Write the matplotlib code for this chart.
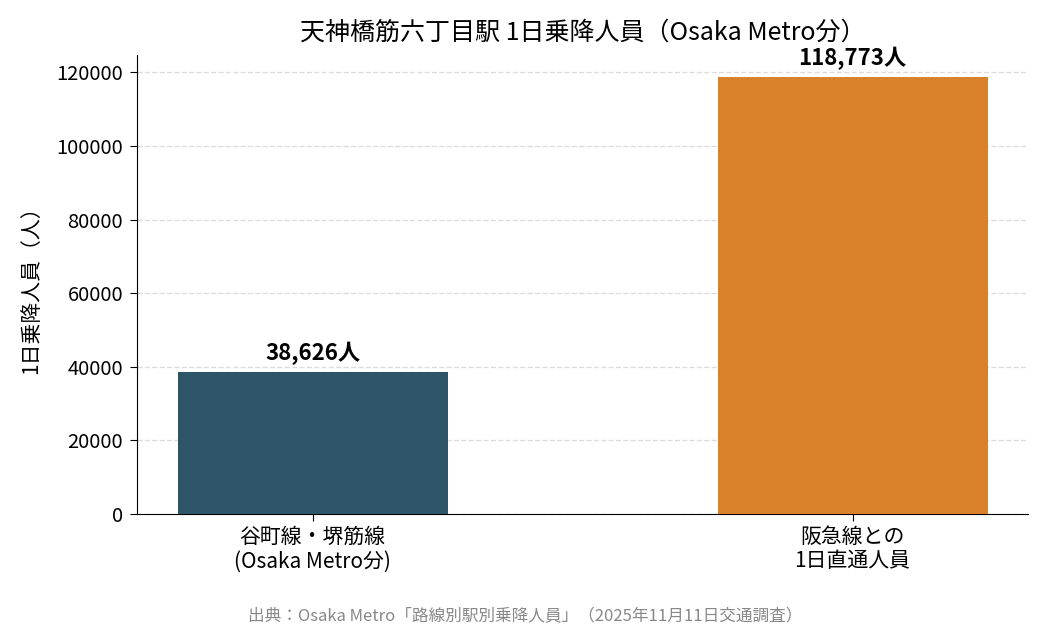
import matplotlib
matplotlib.use("Agg")
import matplotlib.pyplot as plt

plt.rcParams['font.family'] = ['Noto Sans CJK JP', 'DejaVu Sans']

categories = ["谷町線・堺筋線\n(Osaka Metro分)", "阪急線との\n1日直通人員"]
values = [38626, 118773]
colors = ["#2e5468", "#d9822b"]
bar_labels = ["38,626人", "118,773人"]

fig = plt.figure(figsize=(10.5, 6.3), dpi=100)
ax = fig.add_axes([137/1050, 1-514/630, (1028-137)/1050, (514-55)/630])

x = list(range(len(categories)))
ax.bar(x, values, width=0.5, color=colors, zorder=3)
for xi, v, lab in zip(x, values, bar_labels):
    ax.annotate(lab, (xi, v), xytext=(0, 5), textcoords="offset points",
                ha="center", va="bottom", fontsize=16, fontweight="bold")

ax.set_xticks(x)
ax.set_xticklabels(categories, fontsize=15, linespacing=1.15)
ax.set_ylim(0, max(values) * 1.05)
ax.set_yticks([0, 20000, 40000, 60000, 80000, 100000, 120000])
ax.tick_params(axis='y', labelsize=14.5, length=5, pad=5)
ax.tick_params(axis='x', length=5)
ax.set_ylabel("1日乗降人員（人）", fontsize=15, labelpad=10)
ax.set_title("天神橋筋六丁目駅 1日乗降人員（Osaka Metro分）", fontsize=18, pad=11)
ax.grid(axis='y', linestyle='--', color='#dddddd', linewidth=1, zorder=0)
ax.spines['top'].set_visible(False)
ax.spines['right'].set_visible(False)

fig.text(0.5, 1 - 617/630, "出典：Osaka Metro「路線別駅別乗降人員」（2025年11月11日交通調査）",
         ha="center", va="center", fontsize=12, color="#888888")

fig.savefig("out.png", dpi=100)
